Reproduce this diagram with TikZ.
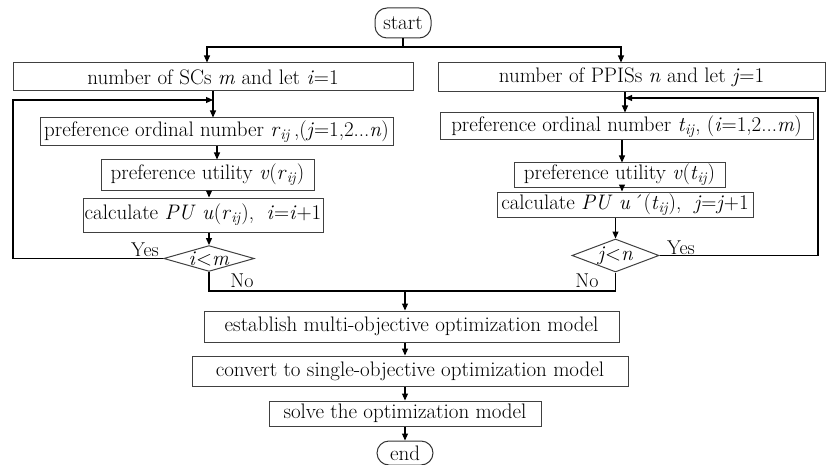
\documentclass[tikz,border=0pt]{standalone}
\usepackage{fontspec}
\usetikzlibrary{arrows.meta,shapes.geometric}
\newcommand{\subij}[1]{\textit{#1}\textsubscript{\textit{ij}}}
\begin{document}
\begin{tikzpicture}[x=1pt,y=-1pt,
  every node/.style={font=\fontsize{21pt}{24pt}\selectfont, inner sep=0pt},
  box/.style={draw=black!75, line width=1pt, rectangle, align=center},
  term/.style={draw=black!80, line width=1pt, rectangle, rounded corners=12pt},
  dia/.style={draw=black!75, line width=1pt, diamond},
  lab/.style={font=\fontsize{20pt}{22pt}\selectfont},
  line/.style={line width=1.1pt, black},
  arr/.style={line width=1.1pt, black, -{Triangle[length=7pt,width=6pt]}}
]
\useasboundingbox (0,0) rectangle (826,465);

% terminals
\node[term, minimum width=56pt, minimum height=30pt] (start) at (403,23) {start};
\node[term, minimum width=56pt, minimum height=24pt] (end) at (405,453) {end};

% left column
\node[box, minimum width=400pt, minimum height=28pt] (L1) at (213,77) {number of SCs \textit{m} and let \textit{i}=1};
\node[box, minimum width=353pt, minimum height=28pt] (L2) at (216.5,132) {preference ordinal number\ \subij{r}\,,(\textit{j}=1,2...\textit{n})};
\node[box, minimum width=213pt, minimum height=30pt] (L3) at (207.5,175) {preference utility \textit{v}(\subij{r})};
\node[box, minimum width=240pt, minimum height=34pt] (L4) at (203,215) {calculate \textit{PU} \textit{u}(\subij{r}),\ \ \textit{i}=\textit{i}+1};
\node[dia, shape aspect=3.5, minimum width=88pt, minimum height=25pt] (DL) at (209,258.5) {\textit{i}{<}\textit{m}};

% right column
\node[box, minimum width=387pt, minimum height=29pt] (R1) at (631.5,77.5) {number of PPISs \textit{n} and let \textit{j}=1};
\node[box, minimum width=373pt, minimum height=27pt] (R2) at (626.5,126.5) {preference ordinal number \subij{t}, (\textit{i}=1,2...\textit{m})};
\node[box, minimum width=211pt, minimum height=24pt] (R3) at (619.5,175) {preference utility \textit{v}(\subij{t})};
\node[box, minimum width=256pt, minimum height=25pt] (R4) at (625,204.5) {calculate \textit{PU} \textit{u}\,´(\subij{t}),\ \ \textit{j}=\textit{j}+1};
\node[dia, shape aspect=2.6, minimum width=87pt, minimum height=33pt] (DR) at (615.5,255.5) {\textit{j}{<}\textit{n}};

% bottom column
\node[box, minimum width=415pt, minimum height=31pt] (EST) at (411.5,326.5) {establish multi-objective optimization model};
\node[box, minimum width=436pt, minimum height=30pt] (CONV) at (410,371) {convert to single-objective optimization model};
\node[box, minimum width=272pt, minimum height=25pt] (SOLVE) at (405,413.5) {solve the optimization model};

% labels
\node[lab] (yesL) at (145,250) {Yes};
\node[lab] (noL) at (242,281) {No};
\node[lab] (yesR) at (681,248) {Yes};
\node[lab] (noR) at (587,281) {No};

% helper coordinates
\coordinate (tb) at (403,47);
\coordinate (xL1) at (207,0);
\coordinate (xR1) at (621,0);
\coordinate (xL12) at (213,0);
\coordinate (xL23) at (217,0);
\coordinate (xL34) at (209,0);
\coordinate (xR12) at (625,0);
\coordinate (xR23) at (622,0);
\coordinate (fbLc) at (13,100);
\coordinate (fbL) at (213,100);
\coordinate (fbRc) at (818,98);
\coordinate (fbR) at (625,98);
\coordinate (mj) at (405,291);

% connectors
\draw[line] (start.south) -- (tb);
\draw[arr] (tb) -| (L1.north -| xL1);
\draw[arr] (tb) -| (R1.north -| xR1);

\draw[arr] (L1.south -| xL12) -- (L2.north -| xL12);
\draw[arr] (L2.south -| xL23) -- (L3.north -| xL23);
\draw[arr] (L3.south -| xL34) -- (L4.north -| xL34);
\draw[arr] (L4.south -| DL) -- (DL.north);
\draw[arr] (DL.west) -| (fbLc) -- (fbL);

\draw[arr] (R1.south -| xR12) -- (R2.north -| xR12);
\draw[arr] (R2.south -| xR23) -- (R3.north -| xR23);
\draw[arr] (R3.south -| xR23) -- (R4.north -| xR23);
\draw[arr] (R4.south -| DR) -- (DR.north);
\draw[arr] (DR.east) -| (fbRc) -- (fbR);

\draw[line] (DL.south) |- (mj);
\draw[line] (DR.south) |- (mj);
\draw[arr] (mj) -- (EST.north -| mj);
\draw[arr] (EST.south -| mj) -- (CONV.north -| mj);
\draw[arr] (CONV.south -| mj) -- (SOLVE.north -| mj);
\draw[arr] (SOLVE.south -| mj) -- (end.north -| mj);
\end{tikzpicture}
\end{document}
